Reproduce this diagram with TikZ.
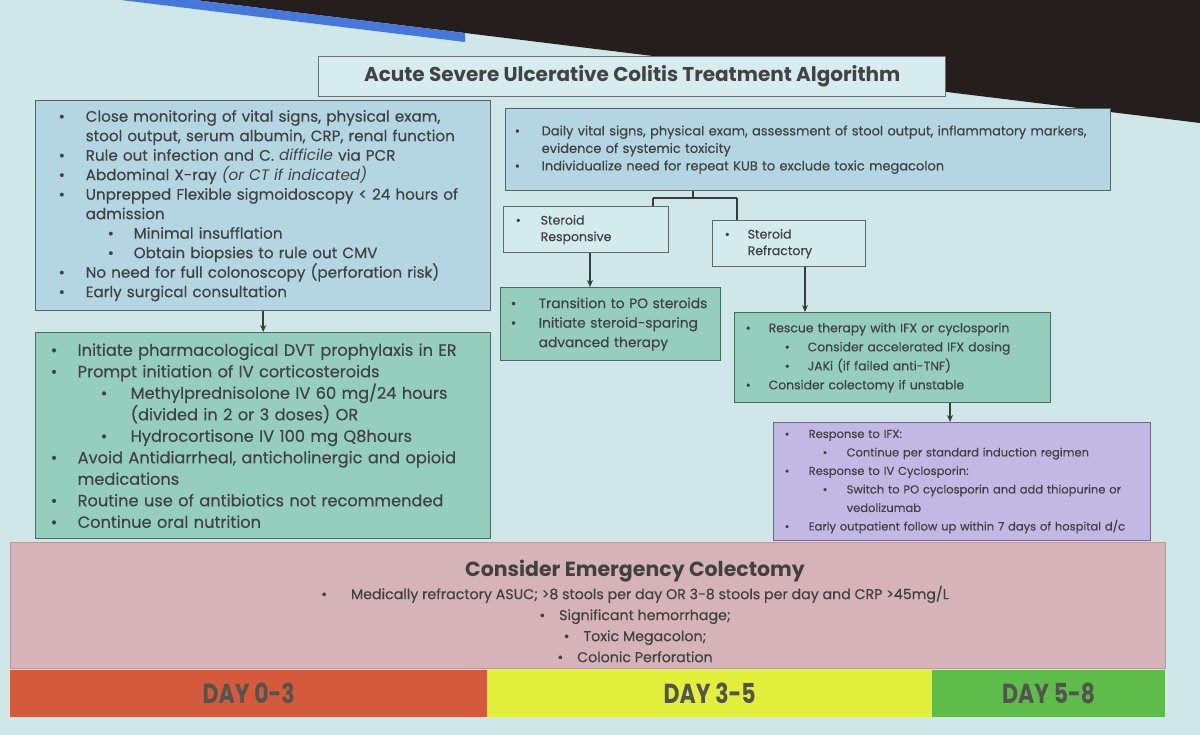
\documentclass[tikz,border=0pt]{standalone}
\usepackage{fontspec}
\setmainfont{Poppins}[UprightFeatures={FakeBold=0.35}]
\newfontfamily\condf[FakeStretch=0.8]{Poppins}
\usetikzlibrary{arrows.meta}
\newlength\bxA \newlength\bxB \newlength\bxC
\newcommand\Ba[1]{\makebox[\bxA][l]{\textbullet}#1}
\newcommand\Ca[1]{\hspace*{\bxA}#1}
\newcommand\Bb[1]{\hspace*{\bxB}\makebox[\bxC][l]{\textbullet}#1}
\newcommand\Cb[1]{\hspace*{\dimexpr\bxB+\bxC\relax}#1}
\newcommand\setind[3]{\setlength\bxA{#1}\setlength\bxB{#2}\setlength\bxC{#3}}
\definecolor{bg}{RGB}{207,231,233}
\definecolor{darkc}{RGB}{38,30,28}
\definecolor{slideblue}{RGB}{70,120,220}
\definecolor{txt}{RGB}{64,66,66}
\definecolor{titletxt}{RGB}{66,68,68}
\definecolor{titleF}{RGB}{214,236,238}
\definecolor{titleD}{RGB}{105,112,112}
\definecolor{blueF}{RGB}{180,214,226}
\definecolor{blueD}{RGB}{82,100,105}
\definecolor{stF}{RGB}{212,235,237}
\definecolor{stD}{RGB}{95,105,105}
\definecolor{greenF}{RGB}{150,206,190}
\definecolor{greenD}{RGB}{70,108,94}
\definecolor{purpleF}{RGB}{193,184,228}
\definecolor{purpleD}{RGB}{112,104,138}
\definecolor{pinkF}{RGB}{214,179,185}
\definecolor{pinkD}{RGB}{186,152,158}
\definecolor{redF}{RGB}{212,90,60}
\definecolor{yellowF}{RGB}{226,240,60}
\definecolor{greenDay}{RGB}{94,188,74}
\definecolor{daytxt}{RGB}{84,84,78}
\definecolor{arrc}{RGB}{58,60,60}
\begin{document}
\begin{tikzpicture}[x=1pt,y=-1pt,
  box/.style={draw, line width=1.4pt, anchor=north west, align=left, inner ysep=3pt, text=txt},
  arr/.style={draw=arrc, line width=1.6pt, -{Stealth[length=7pt,width=6pt]}},
  brk/.style={draw=arrc, line width=2pt},
  daybar/.style={anchor=north west, inner sep=0pt, minimum height=47pt, font=\condf\bfseries\fontsize{27.5}{30}\selectfont, text=daytxt}
]
\useasboundingbox (0,0) rectangle (1200,735);
\fill[bg] (0,0) rectangle (1200,735);
% photo edge of the slide
\fill[darkc] (195,0) -- (1200,0) -- (1200,123) -- (465,33) -- cycle;
\fill[slideblue] (121,0) -- (195,0) -- (465,33) -- (465,42) -- cycle;

% title
\node[box, align=center, fill=titleF, draw=titleD, minimum width=627pt, minimum height=40pt, inner sep=0pt,
      font=\bfseries\fontsize{20}{22}\selectfont, text=titletxt] (title) at (318,56)
  {Acute Severe Ulcerative Colitis Treatment Algorithm};

% left column, day 0-3
\node[box, fill=blueF, draw=blueD, inner xsep=23pt, text width=409pt, minimum width=455pt, minimum height=210pt,
      font={\fontsize{15.2}{19.5}\selectfont\setind{27pt}{49pt}{26pt}}] (lb1) at (35,100)
  {\Ba{Close monitoring of vital signs, physical exam,}\\
   \Ca{stool output, serum albumin, CRP, renal function}\\
   \Ba{Rule out infection and C. \textit{difficile} via PCR}\\
   \Ba{Abdominal X-ray \textit{(or CT if indicated)}}\\
   \Ba{Unprepped Flexible sigmoidoscopy < 24 hours of}\\
   \Ca{admission}\\
   \Bb{Minimal insufflation}\\
   \Bb{Obtain biopsies to rule out CMV}\\
   \Ba{No need for full colonoscopy (perforation risk)}\\
   \Ba{Early surgical consultation}};

\node[box, fill=greenF, draw=greenD, inner xsep=15pt, text width=425pt, minimum width=455pt, minimum height=206pt,
      font={\fontsize{16.2}{21.5}\selectfont\setind{27pt}{50pt}{30pt}}] (lb2) at (35,332)
  {\Ba{Initiate pharmacological DVT prophylaxis in ER}\\
   \Ba{Prompt initiation of IV corticosteroids}\\
   \Bb{Methylprednisolone IV 60 mg/24 hours}\\
   \Cb{(divided in 2 or 3 doses) OR}\\
   \Bb{Hydrocortisone IV 100 mg Q8hours}\\
   \Ba{Avoid Antidiarrheal, anticholinergic and opioid}\\
   \Ca{medications}\\
   \Ba{Routine use of antibiotics not recommended}\\
   \Ba{Continue oral nutrition}};

% right column
\node[box, fill=blueF, draw=blueD, inner xsep=9pt, text width=587pt, minimum width=605pt, minimum height=82pt,
      font={\fontsize{13}{17.5}\selectfont\setind{27pt}{0pt}{0pt}}] (rt) at (505,108)
  {\Ba{Daily vital signs, physical exam, assessment of stool output, inflammatory markers,}\\
   \Ca{evidence of systemic toxicity}\\
   \Ba{Individualize need for repeat KUB to exclude toxic megacolon}};

\node[box, fill=stF, draw=stD, inner xsep=12pt, text width=141pt, minimum width=165pt, minimum height=46pt,
      font={\fontsize{12.5}{16.5}\selectfont\setind{25pt}{0pt}{0pt}}] (resp) at (503,206)
  {\Ba{Steroid}\\ \Ca{Responsive}};

\node[box, fill=stF, draw=stD, inner xsep=12pt, text width=129pt, minimum width=153pt, minimum height=46pt,
      font={\fontsize{12.5}{16.5}\selectfont\setind{23pt}{0pt}{0pt}}] (refr) at (712,220)
  {\Ba{Steroid}\\ \Ca{Refractory}};

\node[box, fill=greenF, draw=greenD, inner xsep=10pt, text width=200pt, minimum width=220pt, minimum height=73pt,
      font={\fontsize{13.8}{19.5}\selectfont\setind{28pt}{0pt}{0pt}}] (trans) at (500,287)
  {\Ba{Transition to PO steroids}\\
   \Ba{Initiate steroid-sparing}\\
   \Ca{advanced therapy}};

\node[box, fill=greenF, draw=greenD, inner xsep=11pt, text width=294pt, minimum width=316pt, minimum height=90pt,
      font={\fontsize{12.4}{19}\selectfont\setind{23pt}{39pt}{23pt}}] (resc) at (734,312)
  {\Ba{Rescue therapy with IFX or cyclosporin}\\
   \Bb{Consider accelerated IFX dosing}\\
   \Bb{JAKi (if failed anti-TNF)}\\
   \Ba{Consider colectomy if unstable}};

\node[box, fill=purpleF, draw=purpleD, inner xsep=11pt, text width=355pt, minimum width=377pt, minimum height=118pt,
      font={\fontsize{11.5}{18.5}\selectfont\setind{24pt}{38pt}{24pt}}] (resp2) at (773,422)
  {\Ba{Response to IFX:}\\
   \Bb{Continue per standard induction regimen}\\
   \Ba{Response to IV Cyclosporin:}\\
   \Bb{Switch to PO cyclosporin and add thiopurine or}\\
   \Cb{vedolizumab}\\
   \Ba{Early outpatient follow up within 7 days of hospital d/c}};

% emergency colectomy
\node[anchor=north west, fill=pinkF, draw=pinkD, line width=1pt, minimum width=1155pt, minimum height=126pt, inner sep=0pt] (pink) at (10,542) {};
\node[align=center, text=txt, font=\fontsize{14.2}{21}\selectfont] (pinktxt) at (635,611)
  {{\bfseries\fontsize{20.5}{22}\selectfont Consider Emergency Colectomy}\\[2pt]
   \textbullet\hspace{24pt}Medically refractory ASUC; >8 stools per day OR 3-8 stools per day and CRP >45mg/L\\
   \textbullet\hspace{14pt}Significant hemorrhage;\\
   \textbullet\hspace{14pt}Toxic Megacolon;\\
   \textbullet\hspace{14pt}Colonic Perforation};

% day bars
\node[daybar, fill=redF, minimum width=477pt] (d1) at (10,670) {DAY 0-3};
\node[daybar, fill=yellowF, minimum width=445pt] (d2) at (487,670) {DAY 3-5};
\node[daybar, fill=greenDay, minimum width=233pt] (d3) at (932,670) {DAY 5-8};

% connectors
\draw[arr] (lb1.south) -- (lb2.north);
\coordinate (bk) at (693,198);
\coordinate (bl) at (653,198);
\coordinate (br) at (737,198);
\draw[brk] (bk |- rt.south) -- (bk);
\draw[brk] (bl) -- (br);
\draw[brk] (bl) -- (bl |- resp.north);
\draw[brk] (br) -- (br |- refr.north);
\coordinate (ra) at (590,252);
\draw[arr] (ra |- resp.south) -- (ra |- trans.north);
\coordinate (rb) at (805,266);
\draw[arr] (rb |- refr.south) -- (rb |- resc.north);
\coordinate (rc) at (950,402);
\draw[arr] (rc |- resc.south) -- (rc |- resp2.north);
\end{tikzpicture}
\end{document}
